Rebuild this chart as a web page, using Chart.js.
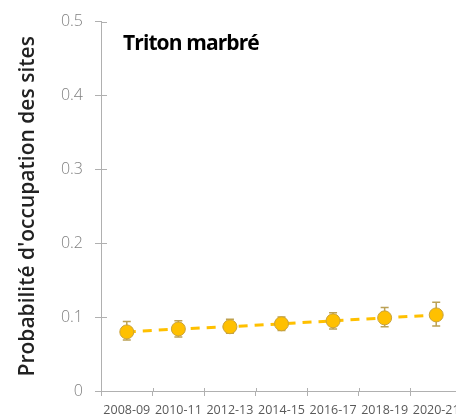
<!DOCTYPE html>
<html>
<head>
<meta charset="utf-8">
<script src="https://cdn.jsdelivr.net/npm/chart.js@4"></script>
<style>
  html, body { margin: 0; padding: 0; background: #fff; overflow: hidden; }
  #wrap { width: 480px; height: 419px; }
</style>
</head>
<body>
<div id="wrap"><canvas id="c" width="480" height="419"></canvas></div>
<script>
// valeurs
const periodes = ['2008-09', '2010-11', '2012-13', '2014-15', '2016-17', '2018-19', '2020-21'];
const occupation = [0.080, 0.084, 0.087, 0.091, 0.095, 0.099, 0.103];
const borneHaute = [0.094, 0.095, 0.097, 0.100, 0.106, 0.113, 0.120];
const borneBasse = [0.069, 0.073, 0.078, 0.082, 0.084, 0.087, 0.088];
const yTicks = [0, 0.1, 0.2, 0.3, 0.4, 0.5];

const axisColor = '#b0b0b0';

// barres d'erreur, dessinées sous les points
const errorBars = {
  id: 'errorBars',
  beforeDatasetsDraw(chart) {
    const { ctx, scales: { x, y } } = chart;
    ctx.save();
    ctx.strokeStyle = '#bba155';
    ctx.lineWidth = 1.5;
    periodes.forEach((p, i) => {
      const px = x.getPixelForValue(i);
      const top = y.getPixelForValue(borneHaute[i]);
      const bot = y.getPixelForValue(borneBasse[i]);
      ctx.beginPath();
      ctx.moveTo(px, top); ctx.lineTo(px, bot);
      ctx.moveTo(px - 4, top); ctx.lineTo(px + 4, top);
      ctx.moveTo(px - 4, bot); ctx.lineTo(px + 4, bot);
      ctx.stroke();
    });
    ctx.restore();
  }
};

// petits traits de graduation vers l'intérieur + titre de l'espèce
const extras = {
  id: 'extras',
  afterDraw(chart) {
    const { ctx, chartArea, scales: { x, y } } = chart;
    ctx.save();
    ctx.strokeStyle = axisColor;
    ctx.lineWidth = 1;
    yTicks.forEach(v => {
      if (v === 0) return;
      const py = Math.round(y.getPixelForValue(v)) + 0.5;
      ctx.beginPath();
      ctx.moveTo(chartArea.left, py);
      ctx.lineTo(chartArea.left + 6, py);
      ctx.stroke();
    });
    // graduations de l'axe x entre les périodes
    for (let i = 1; i < periodes.length; i++) {
      const px = Math.round((x.getPixelForValue(i - 1) + x.getPixelForValue(i)) / 2) + 0.5;
      ctx.beginPath();
      ctx.moveTo(px, chartArea.bottom);
      ctx.lineTo(px, chartArea.bottom - 3);
      ctx.stroke();
    }
    ctx.fillStyle = '#000';
    ctx.font = 'bold 21px "Open Sans"';
    ctx.letterSpacing = '-0.9px';
    ctx.textBaseline = 'alphabetic';
    ctx.fillText('Triton marbré', chartArea.left + 22, 50);
    ctx.restore();
  }
};

new Chart(document.getElementById('c'), {
  type: 'line',
  data: {
    labels: periodes,
    datasets: [{
      data: occupation,
      borderColor: '#ffc000',
      borderWidth: 3,
      borderDash: [9, 7],
      pointRadius: 7,
      pointBackgroundColor: '#ffc000',
      pointBorderColor: '#c9a23a',
      pointBorderWidth: 1,
      tension: 0
    }]
  },
  options: {
    responsive: false,
    animation: false,
    layout: { padding: { top: 21, right: 18, left: 0, bottom: 0 } },
    plugins: { legend: { display: false }, tooltip: { enabled: false } },
    scales: {
      x: {
        offset: true,
        grid: { offset: true, drawOnChartArea: false, drawTicks: true, tickLength: 5, color: axisColor },
        border: { color: axisColor, width: 1 },
        ticks: { color: '#595959', font: { family: 'Open Sans', size: 12.5 }, padding: 7, maxRotation: 0, autoSkip: false },
        afterFit(s) { s.height = 28; }
      },
      y: {
        min: 0, max: 0.5,
        afterBuildTicks(s) { s.ticks = yTicks.map(v => ({ value: v })); },
        grid: { drawOnChartArea: false, drawTicks: true, tickLength: 6, color: axisColor },
        border: { color: axisColor, width: 1 },
        ticks: {
          color: '#808080', padding: 12,
          font: { family: 'Open Sans', size: 16, weight: 300 },
          callback: v => v === 0 ? '0' : v.toFixed(1)
        },
        title: {
          display: true,
          text: "Probabilité d'occupation des sites",
          color: '#222',
          font: { family: 'Open Sans', size: 21, weight: 600 },
          padding: { top: 15, bottom: 0 }
        },
        afterFit(s) { s.width = 101; }
      }
    }
  },
  plugins: [errorBars, extras]
});
</script>
</body>
</html>
